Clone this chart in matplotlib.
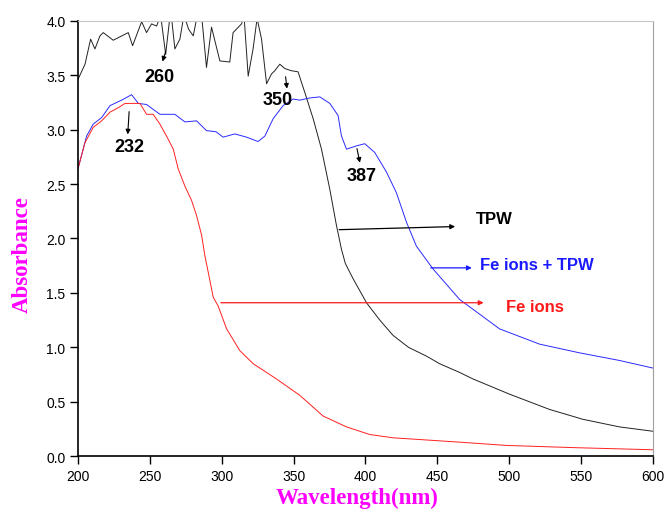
import matplotlib
matplotlib.use("Agg")
import matplotlib.pyplot as plt

# TPW (black)
tpw_wl = [200, 204.9, 208.8, 211.8, 215.3, 217.6, 224.5, 235, 238, 244.3, 247.7, 251.2,
          254.7, 257.5, 261, 264.5, 267.4, 270.9, 273.7, 277, 280.2, 283, 286, 289.4,
          292.9, 298.7, 305.6, 307.9, 313.8, 315.5, 318.4, 321.8, 324.6, 327.7, 331.2,
          334.6, 336.9, 340.4, 343.9, 348.5, 353.1, 357.8, 363.6, 369.4, 375.2, 379.8,
          383.3, 386, 391.4, 400.7, 410, 419.2, 430, 442.4, 451.6, 465.5, 474.8, 500.3,
          528.1, 551.2, 576.7, 600]
tpw_abs = [3.46, 3.60, 3.83, 3.74, 3.86, 3.89, 3.82, 3.89, 3.77, 3.99, 3.89, 3.97,
           3.95, 4.05, 3.69, 4.10, 3.74, 3.83, 4.05, 3.92, 3.86, 4.05, 4.05, 3.57,
           3.94, 3.63, 3.62, 3.89, 3.97, 4.05, 3.49, 3.74, 4.02, 3.83, 3.42,
           3.51, 3.54, 3.60, 3.56, 3.54, 3.53, 3.34, 3.10, 2.82, 2.45, 2.12,
           1.90, 1.77, 1.63, 1.41, 1.25, 1.11, 1.00, 0.92, 0.85, 0.77, 0.71, 0.57,
           0.43, 0.34, 0.27, 0.23]

# Fe ions + TPW (blue)
mix_wl = [200, 206, 210.6, 216.5, 222.3, 230.4, 237.3, 242, 247.7, 257, 267.4, 274.4,
          282.5, 289.4, 296, 301, 309.1, 317.3, 325.3, 330, 335.8, 342.7, 349.7, 354.3,
          361.3, 368.2, 375.2, 380.9, 383.3, 386.8, 393.7, 399.5, 406.4, 414.6, 421.5,
          428.5, 435.4, 447, 465.5, 493.3, 521.1, 548.9, 576.7, 600]
mix_abs = [2.64, 2.94, 3.05, 3.11, 3.22, 3.27, 3.32, 3.24, 3.23, 3.14, 3.14, 3.07,
           3.08, 2.99, 2.98, 2.93, 2.96, 2.93, 2.89, 2.94, 3.10, 3.22, 3.28, 3.27,
           3.29, 3.30, 3.24, 3.13, 2.94, 2.82, 2.85, 2.87, 2.79, 2.61, 2.42,
           2.15, 1.93, 1.72, 1.44, 1.17, 1.03, 0.95, 0.88, 0.81]

# Fe ions (red)
fe_wl = [200, 204.9, 210.6, 216.5, 222.3, 228, 232.7, 238.4, 243.1, 247.7, 252.3, 257,
         261.6, 266.3, 269.7, 274.4, 279, 282.5, 286, 288.3, 290.6, 294.1, 297.5, 303.4,
         312.6, 321.9, 338.1, 354.3, 370.5, 386.8, 403, 419.2, 442.4, 465.5, 498,
         544.3, 600]
fe_abs = [2.64, 2.88, 3.02, 3.08, 3.16, 3.20, 3.24, 3.24, 3.24, 3.14, 3.14, 3.05,
          2.94, 2.82, 2.64, 2.48, 2.35, 2.21, 2.03, 1.84, 1.69, 1.46, 1.38, 1.17,
          0.97, 0.85, 0.71, 0.56, 0.37, 0.27, 0.20, 0.17, 0.15, 0.13, 0.10,
          0.08, 0.06]

x_ticks = [200, 250, 300, 350, 400, 450, 500, 550, 600]
y_ticks = [0.0, 0.5, 1.0, 1.5, 2.0, 2.5, 3.0, 3.5, 4.0]

SANS = "Liberation Sans"
SERIF = "Liberation Serif"
MAGENTA = "#ff00ff"

fig = plt.figure(figsize=(6.67, 5.10), dpi=100)
ax = fig.add_axes([0.1169, 0.1033, 0.8621, 0.8543])

ax.plot(tpw_wl, tpw_abs, color="#222222", lw=0.7)
ax.plot(mix_wl, mix_abs, color="#2a2aff", lw=0.7)
ax.plot(fe_wl, fe_abs, color="#ff2020", lw=0.7)

ax.set_xlim(200, 600)
ax.set_ylim(0, 4.0)
ax.set_xticks(x_ticks)
ax.set_yticks(y_ticks)
ax.set_yticklabels([f"{v:.1f}" for v in y_ticks])
ax.tick_params(direction="out", length=6, width=1.0, labelsize=10, pad=3)
for lab in ax.get_xticklabels() + ax.get_yticklabels():
    lab.set_fontfamily(SANS)

ax.spines["left"].set_linewidth(1.2)
ax.spines["bottom"].set_linewidth(1.2)
ax.spines["top"].set_color("#c8c8c8")
ax.spines["right"].set_color("#a0a0a0")

# peak annotations
arrow_kw = dict(arrowstyle="-|>", mutation_scale=7, lw=0.8, color="black")
peaks = [
    ("260", (261.6, 3.74), (258.2, 3.60), (257.0, 3.49)),
    ("232", (235.7, 3.19), (234.5, 2.93), (236.1, 2.84)),
    ("350", (344.2, 3.51), (345.6, 3.35), (339.2, 3.28)),
    ("387", (393.7, 2.85), (396.5, 2.67), (397.2, 2.58)),
]
for label, start, end, text_pos in peaks:
    ax.annotate("", xy=end, xytext=start, arrowprops=arrow_kw)
    ax.text(text_pos[0], text_pos[1], label, ha="center", va="center",
            fontsize=13, fontweight="bold", family=SANS)

# curve labels
labels = [
    ("TPW", "black", (379.8, 2.08), (464.3, 2.11), (477.1, 2.18)),
    ("Fe ions + TPW", "#1a1aff", (443.5, 1.73), (475.9, 1.73), (479.4, 1.76)),
    ("Fe ions", "#ff1a1a", (297.5, 1.41), (484.1, 1.41), (498.0, 1.38)),
]
for label, col, start, end, text_pos in labels:
    ax.annotate("", xy=end, xytext=start,
                arrowprops=dict(arrowstyle="-|>", mutation_scale=7, lw=0.9, color=col))
    ax.text(text_pos[0], text_pos[1], label, ha="left", va="center",
            fontsize=12, fontweight="bold", color=col, family=SANS)

fig.text(0.033, 0.50, "Absorbance", rotation=90, ha="center", va="center",
         fontsize=16.5, fontweight="bold", color=MAGENTA, family=SERIF)
fig.text(0.535, 0.002, "Wavelength(nm)", ha="center", va="bottom",
         fontsize=16.5, fontweight="bold", color=MAGENTA, family=SERIF)

fig.savefig("out.png", dpi=100)
